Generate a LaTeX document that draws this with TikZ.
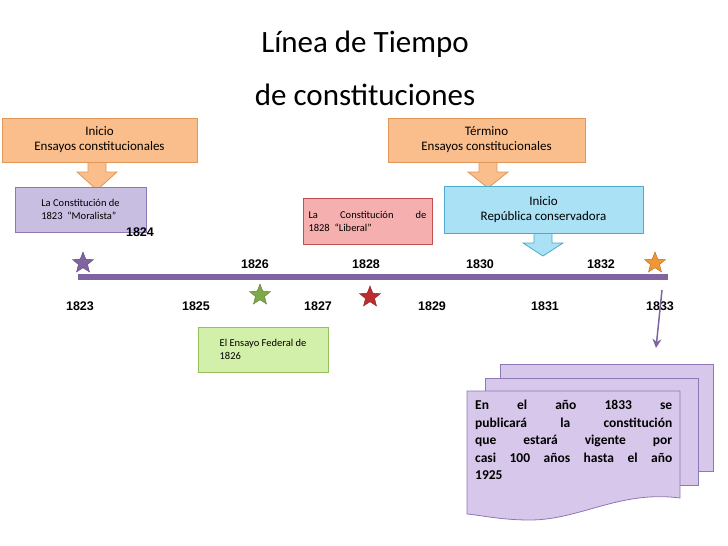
\documentclass[tikz,border=0pt]{standalone}
\usepackage{fontspec}
\setmainfont{Carlito}
\newfontfamily\yearfont{Liberation Sans}
\usetikzlibrary{shapes.geometric,positioning,arrows.meta,calc}
\definecolor{boxorange}{RGB}{250,190,140}
\definecolor{edgeorange}{RGB}{225,150,90}
\definecolor{boxpurple}{RGB}{200,190,225}
\definecolor{edgepurple}{RGB}{140,120,180}
\definecolor{boxred}{RGB}{245,175,175}
\definecolor{edgered}{RGB}{190,80,80}
\definecolor{boxcyan}{RGB}{170,225,245}
\definecolor{edgecyan}{RGB}{75,170,205}
\definecolor{boxgreen}{RGB}{210,240,170}
\definecolor{edgegreen}{RGB}{150,190,90}
\definecolor{lineviolet}{RGB}{128,100,162}
\definecolor{docfill}{RGB}{215,200,235}
\definecolor{stargreen}{RGB}{125,170,70}
\definecolor{starred}{RGB}{190,45,45}
\definecolor{starorange}{RGB}{240,150,50}
\tikzset{
  labelbox/.style={draw, line width=0.8pt, inner sep=3pt, font=\fontsize{13}{15}\selectfont, align=center},
  notebox/.style={draw, line width=0.8pt, inner sep=5pt, font=\fontsize{10.5}{13}\selectfont, align=left},
  year/.style={font=\yearfont\bfseries\fontsize{12.5}{14}\selectfont},
  mark star/.style={star, star points=5, star point ratio=2.3, minimum size=22pt, inner sep=0pt, draw=#1!70!black, fill=#1},
  blockarrow/.style={line width=0.8pt}
}
\newcommand{\blockdown}[5]{% x, ytop, ybot, fill, draw
  \filldraw[blockarrow, fill=#4, draw=#5] (#1-9,#2) -- (#1+9,#2) -- (#1+9,#2+12) -- (#1+20,#2+12)
    -- (#1,#3) -- (#1-20,#2+12) -- (#1-9,#2+12) -- cycle;}
\begin{document}
\begin{tikzpicture}[x=1pt,y=-1pt]
\useasboundingbox (0,0) rectangle (728,546);

% Title
\node[font=\fontsize{31}{53}\selectfont, align=center] (title) at (365,68) {Línea de Tiempo\\de constituciones};

% Arrows under the boxes
\blockdown{97}{160}{190}{boxorange}{edgeorange}
\blockdown{488}{160}{188}{boxorange}{edgeorange}
\blockdown{543}{231}{256}{boxcyan}{edgecyan}

% Header boxes
\node[labelbox, fill=boxorange, draw=edgeorange, minimum width=195pt, minimum height=44pt] (inicio) at (99.5,140) {Inicio\\Ensayos constitucionales};
\node[labelbox, fill=boxorange, draw=edgeorange, minimum width=197pt, minimum height=44pt] (termino) at (486.5,140) {Término\\Ensayos constitucionales};
\node[labelbox, fill=boxcyan, draw=edgecyan, minimum width=199pt, minimum height=47pt] (republica) at (543.5,209.5) {Inicio\\República conservadora};

% Note boxes
\node[notebox, fill=boxpurple, draw=edgepurple, minimum width=131pt, minimum height=45pt] (moralista) at (80.5,209.5) {La Constitución de\\ 1823~~``Moralista''};
\node[notebox, fill=boxred, draw=edgered, minimum width=129pt, minimum height=46pt] (liberal) at (367.5,221) {\makebox[118pt][s]{La Constitución de}\\1828~~``Liberal''};
\node[notebox, fill=boxgreen, draw=edgegreen, minimum width=130pt, minimum height=45pt] (federal) at (263,349.5) {El Ensayo Federal de\\1826};

% Timeline
\draw[line width=6pt, lineviolet] (78,277) coordinate (tstart) -- (668,277) coordinate (tend);
\foreach \yr/\x/\y in {1824/140/232,1826/255/264,1828/366/264,1830/480/264,1832/601/264}
  \node[year] (y\yr) at (\x,\y) {\yr};
\foreach \yr/\x in {1823/80,1825/196,1827/318,1829/432,1831/545,1833/660}
  \node[year] (y\yr) at (\x,306) {\yr};

% Stars
\node[mark star=lineviolet] (s1823) at (83,263) {};
\node[mark star=stargreen] (s1826) at (260,295) {};
\node[mark star=starred] (s1828) at (370,297) {};
\node[mark star=starorange] (s1833) at (655,263) {};

% Documents
\foreach \dx/\dy in {33/-27,18/-13}
  \draw[edgepurple, fill=docfill, line width=0.8pt] (467+\dx,391+\dy) rectangle (680+\dx,498+\dy);
\draw[edgepurple, fill=docfill, line width=0.8pt] (467,391) coordinate (doctop) -- (680,391) -- (680,498)
  .. controls (620,490) and (580,520) .. (530,520) .. controls (500,520) and (480,515) .. (467,514) -- cycle;
\node[font=\bfseries\fontsize{13.5}{17.5}\selectfont, align=left, anchor=north west, inner sep=0pt] (doctext) at (475,400)
  {\makebox[197pt][s]{En el año 1833 se}\\\makebox[197pt][s]{publicará la constitución}\\\makebox[197pt][s]{que estará vigente por}\\\makebox[197pt][s]{casi 100 años hasta el año}\\1925};
\coordinate (arrowtop) at (662,290);
\coordinate (arrowend) at (656,348);
\draw[lineviolet, line width=1.5pt, -{Stealth[length=9pt,width=9pt]}] (arrowtop) -- (arrowend);
\end{tikzpicture}
\end{document}
